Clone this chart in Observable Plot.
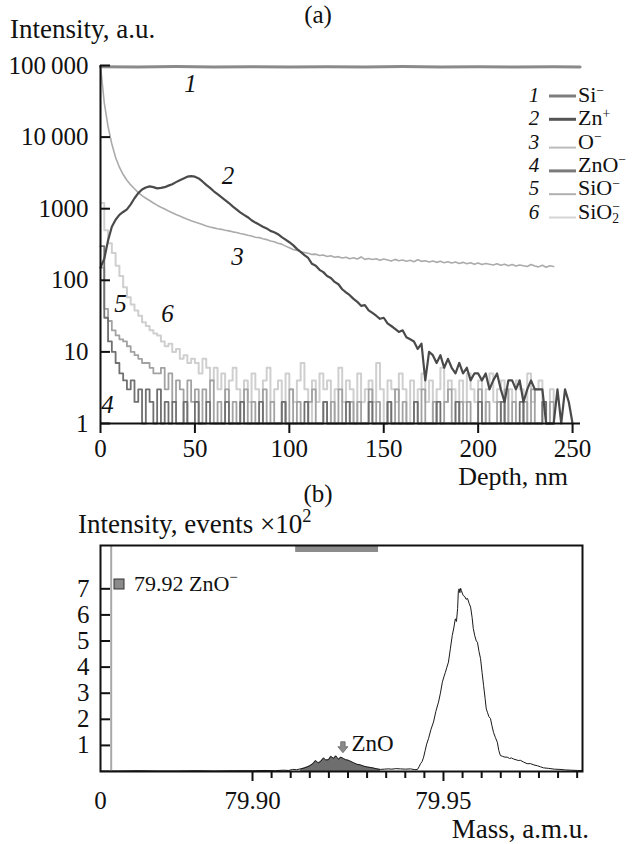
<!DOCTYPE html>
<html>
<head>
<meta charset="utf-8">
<script src="https://cdn.jsdelivr.net/npm/d3@7"></script>
<script src="https://cdn.jsdelivr.net/npm/@observablehq/plot@0.6"></script>
<style>
  body { margin: 0; background: #fff; }
  #wrap { position: relative; width: 636px; height: 844px; }
  #pa, #pb { position: absolute; left: 0; }
  #pa { top: 0; }
  #pb { top: 505px; }
</style>
</head>
<body>
<div id="wrap"><div id="pa"></div><div id="pb"></div></div>
<script>
// ================= DATA =================
// Panel (a): SIMS depth profiles
const depthTicks = [0, 50, 100, 150, 200, 250];
const intensityTicks = [1, 10, 100, 1000, 10000, 100000];
const intensityTickLabels = ["1", "10", "100", "1000", "10\u2009000", "100\u2009000"];

const profileStep = 2; // nm between recorded points (profiles start at 0 nm)

const siDepth  = [0, 20, 40, 60, 80, 100, 120, 140, 160, 180, 200, 220, 240, 254];
const siValues = [96000, 95000, 96500, 95500, 96000, 95000, 96000, 95500, 96500, 95000, 96000, 95500, 96000, 95500];

const znPlus = [
  150, 200, 360, 560, 700, 820, 900, 980, 1150, 1400,
  1650, 1850, 1980, 2050, 2000, 1920, 1950, 2000, 2100, 2200,
  2350, 2500, 2650, 2800, 2850, 2800, 2650, 2400, 2150, 1950,
  1750, 1600, 1450, 1320, 1200, 1080, 980, 890, 820, 760,
  690, 640, 600, 560, 530, 490, 470, 440, 400, 370,
  340, 310, 275, 250, 225, 205, 170, 160, 140, 130,
  115, 108, 95, 88, 75, 68, 62, 55, 50, 44,
  45, 38, 35, 32, 29, 30, 25, 23, 21, 19,
  20, 16, 15, 14, 11, 13, 4, 10, 9, 7,
  9, 6, 8, 6, 5, 7, 5, 6, 4, 5,
  5, 4, 5, 3, 4, 5, 3, 2, 4, 4,
  3, 4, 2, 3, 4, 3, 3, 3, 1, 1,
  1, 3, 1, 3, 2, 1
];

const oMinus = [
  100000, 30000, 14000, 8000, 5200, 3800, 3000, 2500, 2150, 1900,
  1680, 1520, 1400, 1300, 1200, 1120, 1050, 990, 930, 880,
  830, 790, 750, 710, 680, 650, 625, 600, 575, 555,
  540, 525, 515, 500, 490, 475, 465, 450, 440, 425,
  415, 400, 395, 380, 370, 355, 345, 330, 320, 300,
  285, 270, 262, 250, 245, 238, 230, 232, 222, 226,
  215, 220, 210, 214, 205, 210, 200, 206, 198, 212,
  196, 202, 195, 200, 190, 198, 192, 186, 196, 188,
  192, 185, 190, 182, 194, 184, 188, 180, 186, 178,
  184, 176, 182, 174, 180, 172, 178, 170, 176, 168,
  174, 166, 172, 168, 164, 170, 162, 168, 160, 166,
  158, 164, 160, 156, 166, 158, 154, 162, 152, 160,
  156
];

const znoMinus = [
  300, 30, 14, 10, 7, 5, 4, 3, 4, 2,
  3, 1, 3, 2, 1, 3, 1, 2, 1, 2,
  1, 1, 2, 1, 1, 2, 1, 1, 2, 1,
  1,
  1, 1, 2, 1, 1, 1, 2, 1, 1, 1, 1, 2, 1, 1, 1, 1, 1, 2, 1, 1,
  1, 1, 1, 2, 1, 1, 1, 1, 2, 1, 1, 1, 1, 1, 2, 1, 1, 1, 1, 1,
  2, 1, 1, 1, 1, 2, 1, 1, 1, 1, 1, 1, 2, 1, 1, 1, 1, 1, 2, 1,
  1, 1, 1, 2, 1, 1, 1, 1, 1, 2, 1, 1, 1, 1, 1, 2, 1, 1, 1, 1,
  2, 1, 1, 1, 1, 1, 2, 1, 1, 1
];

const sioMinus = [
  150, 40, 27, 20, 17, 15, 14, 12, 10, 9,
  8, 7, 7, 6, 5, 5, 6, 3, 5, 2,
  4, 3, 1, 4, 2, 3, 1, 3, 2, 4,
  1,
  2, 1, 3, 1, 2, 1, 2, 3, 1, 2, 1, 1, 3, 1, 2, 1, 1, 2, 1, 3,
  1, 2, 1, 1, 2, 3, 1, 1, 2, 1, 2, 1, 3, 1, 1, 2, 1, 2, 1, 1,
  3, 1, 2, 1, 1, 2, 1, 3, 1, 2, 1, 1, 2, 1, 3, 1, 1, 2, 1, 1,
  2, 3, 1, 1, 2, 1, 2, 1, 1, 3, 1, 2, 1, 1, 2, 1, 3, 1, 2, 1,
  1, 2, 1, 3, 1, 1, 2, 1, 2, 1
];

const sio2Minus = [
  1200, 500, 330, 240, 160, 115, 80, 58, 46, 38,
  32, 26, 23, 20, 18, 17, 14, 12, 13, 10,
  11, 8, 9, 7, 8, 7, 5, 8, 6, 4,
  6,
  3, 5, 2, 4, 6, 3, 1, 4, 2, 5, 3, 1, 4, 6, 2, 3, 4, 1, 5, 3,
  2, 4, 7, 3, 1, 4, 2, 5, 3, 4, 1, 3, 6, 2, 4, 3, 1, 5, 2, 3,
  4, 2, 7, 3, 1, 4, 3, 2, 5, 3, 1, 4, 2, 3, 5, 2, 4, 1, 3, 6,
  2, 4, 3, 1, 4, 2, 5, 3, 2, 4, 1, 3, 5, 2, 3, 4, 1, 3, 2, 4,
  3, 1, 5, 2, 3, 4, 2, 1, 3, 2
];

// curve number labels (depth nm, intensity a.u.)
const curveLabels = [
  {num: "1", depth: 47.7, value: 56000},
  {num: "2", depth: 67.5, value: 2900},
  {num: "3", depth: 72.5, value: 210},
  {num: "4", depth: 3.7, value: 1.8},
  {num: "5", depth: 10.6, value: 46},
  {num: "6", depth: 35.5, value: 34}
];

const legendNums = ["1", "2", "3", "4", "5", "6"];
const legendLabels = [
  ["Si", {sup: "\u2212"}],
  ["Zn", {sup: "+"}],
  ["O", {sup: "\u2212"}],
  ["ZnO", {sup: "\u2212"}],
  ["SiO", {sup: "\u2212"}],
  ["SiO", {sub: "2", sup: "\u2212"}]
];

// Panel (b): mass spectrum around 79.92–79.96 a.m.u.
const massDomain = [79.8602, 79.9864];
const massMajorTicks = [79.90, 79.95];
const massMinorTicks = [79.905, 79.910, 79.915, 79.920, 79.925, 79.930, 79.935, 79.940, 79.945,
                        79.955, 79.960, 79.965, 79.970, 79.975, 79.980, 79.985];
const countTicks = [1, 2, 3, 4, 5, 6, 7];

const specMass = [
  79.8602, 79.8650, 79.8700, 79.8750, 79.8800, 79.8850, 79.8900, 79.8950, 79.9000, 79.9030,
  79.9060, 79.9080, 79.9095, 79.9105, 79.9115, 79.9126, 79.9135, 79.9144, 79.9150, 79.9158,
  79.9165, 79.9172, 79.9178, 79.9186, 79.9192, 79.9199, 79.9205, 79.9212, 79.9218, 79.9225,
  79.9231, 79.9238, 79.9244, 79.9251, 79.9258, 79.9264, 79.9273, 79.9283, 79.9292, 79.9301,
  79.9310, 79.9317, 79.9326, 79.9335, 79.9345, 79.9355, 79.9365, 79.9375, 79.9387, 79.9400,
  79.9414, 79.9425, 79.9432, 79.9436, 79.9440, 79.9444, 79.9448, 79.9452, 79.9456, 79.9461,
  79.9467, 79.9474, 79.9480, 79.9487, 79.9492, 79.9497, 79.9501, 79.9505, 79.9509, 79.9513,
  79.9518, 79.9523, 79.9527, 79.9531, 79.9534, 79.9537, 79.9539, 79.9541, 79.9543, 79.9545,
  79.9547, 79.9550, 79.9552, 79.9556, 79.9559, 79.9563, 79.9567, 79.9571, 79.9575, 79.9578,
  79.9582, 79.9586, 79.9589, 79.9593, 79.9597, 79.9601, 79.9605, 79.9609, 79.9612, 79.9615,
  79.9619, 79.9623, 79.9627, 79.9631, 79.9636, 79.9641, 79.9645, 79.9649, 79.9655, 79.9661,
  79.9667, 79.9673, 79.9678, 79.9683, 79.9690, 79.9696, 79.9701, 79.9710, 79.9719, 79.9728,
  79.9737, 79.9746, 79.9754, 79.9762, 79.9775, 79.9790, 79.9805, 79.9820, 79.9835, 79.9851,
  79.9864
];
const specCounts = [
  0.02, 0.02, 0.03, 0.02, 0.02, 0.03, 0.02, 0.03, 0.03, 0.04,
  0.03, 0.05, 0.04, 0.08, 0.07, 0.10, 0.13, 0.18, 0.22, 0.30,
  0.42, 0.33, 0.38, 0.52, 0.44, 0.45, 0.58, 0.50, 0.60, 0.47,
  0.55, 0.50, 0.45, 0.43, 0.38, 0.34, 0.28, 0.25, 0.20, 0.17,
  0.15, 0.13, 0.10, 0.08, 0.09, 0.10, 0.09, 0.11, 0.10, 0.09,
  0.10, 0.07, 0.08, 0.18, 0.30, 0.38, 0.55, 0.80, 1.05, 1.27,
  1.60, 1.90, 2.30, 2.66, 3.00, 3.42, 3.62, 3.80, 4.00, 4.19,
  4.70, 5.21, 5.50, 5.85, 5.75, 6.24, 6.93, 7.00, 6.85, 7.02,
  6.93, 6.80, 6.74, 6.70, 6.60, 6.63, 6.45, 6.30, 5.90, 5.48,
  5.20, 5.00, 4.95, 4.60, 4.33, 3.80, 3.30, 2.80, 2.40, 2.27,
  2.10, 2.03, 1.75, 1.50, 1.30, 1.12, 0.80, 0.61, 0.58, 0.55,
  0.55, 0.50, 0.52, 0.48, 0.45, 0.42, 0.43, 0.36, 0.30, 0.30,
  0.25, 0.22, 0.18, 0.14, 0.12, 0.09, 0.08, 0.06, 0.05, 0.04,
  0.04
];
const znoPeakRange = [79.9126, 79.9335];  // shaded ZnO⁻ peak
const gateWindow = {from: 79.9113, to: 79.9330}; // grey bar on top
const cursorMass = 79.8630;                      // grey vertical marker line
const znoMarker = {mass: 79.9238, top: 1.12, tip: 0.70, label: "ZnO", labelMass: 79.9259, labelY: 1.07};

// ================= STYLE =================
const FONT = "'Liberation Serif', 'Times New Roman', Times, serif";
const seriesStyle = {
  "SiO2-": {stroke: "#cfcfcf", width: 2, curve: "step-after"},
  "SiO-":  {stroke: "#a2a2a2", width: 1.8, curve: "step-after"},
  "ZnO-":  {stroke: "#707070", width: 1.8, curve: "step-after"},
  "O-":    {stroke: "#ababab", width: 1.6, curve: "linear"},
  "Zn+":   {stroke: "#4a4a4a", width: 2.2, curve: "linear"},
  "Si-":   {stroke: "#8a8a8a", width: 3, curve: "linear"}
};
const legendStyle = [
  {stroke: "#7d7d7d", width: 3, off: 1},
  {stroke: "#555", width: 3, off: 1},
  {stroke: "#bcbcbc", width: 2, off: 6},
  {stroke: "#7a7a7a", width: 3, off: 6},
  {stroke: "#b0b0b0", width: 2, off: 6},
  {stroke: "#d4d4d4", width: 2, off: 6}
];

// ================= BUILD TABLES =================
const toRows = (name, arr) => arr.map((v, i) => ({series: name, depth: i * profileStep, value: v}));
const profiles = {
  "SiO2-": toRows("SiO2-", sio2Minus),
  "SiO-": toRows("SiO-", sioMinus),
  "ZnO-": toRows("ZnO-", znoMinus),
  "O-": toRows("O-", oMinus),
  "Zn+": toRows("Zn+", znPlus),
  "Si-": siDepth.map((d, i) => ({series: "Si-", depth: d, value: siValues[i]}))
};
const spectrum = specMass.map((m, i) => ({mass: m, counts: specCounts[i]}));
const znoPeak = spectrum.filter(d => d.mass >= znoPeakRange[0] && d.mass <= znoPeakRange[1]);

// rich text helper (sub/superscripts)
function richText(g, x, y, parts, {anchor = "start", size = 24, italic = false, supRise = 0.42, supScale = 0.68} = {}) {
  const t = g.append("text").attr("x", x).attr("y", y).attr("text-anchor", anchor)
    .attr("font-size", size).attr("font-family", FONT).attr("fill", "#111");
  if (italic) t.attr("font-style", "italic");
  let shift = 0;
  for (const p of parts) {
    if (typeof p === "string") {
      t.append("tspan").attr("dy", -shift).text(p); shift = 0;
    } else {
      if (p.sub) {
        t.append("tspan").attr("dy", size * 0.22 - shift).attr("font-size", size * supScale).text(p.sub);
        shift = size * 0.22;
        if (p.sup) {
          t.append("tspan").attr("dx", -size * supScale * 0.5).attr("dy", -size * supRise - shift).attr("font-size", size * supScale).text(p.sup);
          shift = -size * supRise;
        }
      } else if (p.sup) {
        t.append("tspan").attr("dy", -size * supRise - shift).attr("font-size", size * supScale).text(p.sup);
        shift = -size * supRise;
      }
    }
  }
  return t;
}

// ================= PANEL (a) =================
const drawOrder = ["SiO2-", "SiO-", "ZnO-", "O-", "Zn+", "Si-"];
const chartA = Plot.plot({
  width: 636, height: 505,
  marginTop: 65, marginBottom: 82, marginLeft: 100, marginRight: 56,
  style: {fontFamily: FONT, fontSize: "25px", background: "transparent", overflow: "visible", color: "#111"},
  x: {domain: [0, 254.2], label: null},
  y: {type: "log", domain: [1, 100000], label: null},
  marks: [
    ...drawOrder.map(k => Plot.line(profiles[k], {
      x: "depth", y: "value", stroke: seriesStyle[k].stroke, strokeWidth: seriesStyle[k].width,
      curve: seriesStyle[k].curve, strokeLinejoin: "round"
    })),
    Plot.ruleX([0], {stroke: "#111", strokeWidth: 2}),
    Plot.ruleY([1], {stroke: "#111", strokeWidth: 2}),
    Plot.tickY(intensityTicks, {y: d => d, insetRight: 470, stroke: "#111", strokeWidth: 2}),
    Plot.axisY({ticks: intensityTicks, tickSize: 0, tickPadding: 12, fontSize: 25,
      tickFormat: d => intensityTickLabels[intensityTicks.indexOf(d)]}),
    Plot.axisX({ticks: depthTicks, tickSize: 10, tickPadding: 6, strokeWidth: 2, fontSize: 25,
      tickFormat: d => String(d)}),
    Plot.text(curveLabels, {x: "depth", y: "value", text: "num", fontStyle: "italic", fontSize: 25, fill: "#111"})
  ]
});
document.getElementById("pa").appendChild(chartA);
{
  const g = d3.select(chartA).append("g");
  richText(g, 318, 23, ["(a)"], {anchor: "middle", size: 25});
  richText(g, 10, 38, ["Intensity, a.u."], {size: 27});
  richText(g, 568, 485, ["Depth, nm"], {anchor: "end", size: 26});
  richText(g, 318, 502, ["(b)"], {anchor: "middle", size: 25});
  legendNums.forEach((n, i) => {
    const cy = 95 + i * 23.3;
    richText(g, 534, cy + 7, [n], {anchor: "middle", size: 21, italic: true});
    g.append("line").attr("x1", 549).attr("x2", 576)
      .attr("y1", cy + legendStyle[i].off).attr("y2", cy + legendStyle[i].off)
      .attr("stroke", legendStyle[i].stroke).attr("stroke-width", legendStyle[i].width);
    richText(g, 578, cy + 7, legendLabels[i], {size: 22, supRise: 0.34, supScale: 0.62});
  });
}

// ================= PANEL (b) =================
const chartB = Plot.plot({
  width: 636, height: 339,
  marginTop: 40, marginBottom: 73, marginLeft: 100, marginRight: 54,
  style: {fontFamily: FONT, fontSize: "25px", background: "transparent", overflow: "visible", color: "#111"},
  x: {domain: massDomain, label: null},
  y: {domain: [0, 8.66], label: null},
  marks: [
    Plot.areaY(znoPeak, {x: "mass", y: "counts", fill: "#6e6e6e"}),
    Plot.line(spectrum, {x: "mass", y: "counts", stroke: "#1a1a1a", strokeWidth: 1}),
    Plot.ruleX([cursorMass], {stroke: "#a8a8a8", strokeWidth: 2}),
    Plot.rect([gateWindow], {x1: "from", x2: "to", insetTop: 1, insetBottom: 219, fill: "#8c8c8c"}),
    Plot.frame({stroke: "#111", strokeWidth: 2}),
    Plot.tickY(countTicks, {y: d => d, insetRight: 472, stroke: "#111", strokeWidth: 2}),
    Plot.axisY({ticks: countTicks, tickSize: 0, tickPadding: 11, fontSize: 25, tickFormat: d => String(d)}),
    Plot.axisX({ticks: massMajorTicks, tickSize: 10, tickPadding: 10, strokeWidth: 2, fontSize: 25,
      tickFormat: d3.format(".2f")}),
    Plot.axisX({ticks: massMinorTicks, tickSize: 7, strokeWidth: 2, tickFormat: () => ""}),
    Plot.axisX({ticks: [massDomain[0]], tickSize: 0, tickPadding: 20, fontSize: 25, tickFormat: () => "0"}),
    Plot.text([znoMarker], {x: "labelMass", y: "labelY", text: "label", textAnchor: "start", fontSize: 23, fill: "#111"})
  ]
});
document.getElementById("pb").appendChild(chartB);
{
  const g = d3.select(chartB).append("g");
  const xs = chartB.scale("x"), ys = chartB.scale("y");
  richText(g, 78, 28, ["Intensity, events \u00d710", {sup: "2"}], {size: 27});
  richText(g, 589, 333, ["Mass, a.m.u."], {anchor: "end", size: 27});
  // legend square
  g.append("rect").attr("x", 114).attr("y", 74).attr("width", 10).attr("height", 10)
    .attr("fill", "#8a8a8a").attr("stroke", "#333").attr("stroke-width", 1);
  richText(g, 134, 86, ["79.92 ZnO", {sup: "\u2212"}], {size: 22});
  // ZnO arrow
  const ax = xs.apply(znoMarker.mass), at = ys.apply(znoMarker.top), ab = ys.apply(znoMarker.tip);
  const hw = 5, sw = 2.2, hh = 6;
  g.append("path")
    .attr("d", `M${ax - sw},${at} L${ax + sw},${at} L${ax + sw},${ab - hh} L${ax + hw},${ab - hh} L${ax},${ab} L${ax - hw},${ab - hh} L${ax - sw},${ab - hh} Z`)
    .attr("fill", "#8a8a8a").attr("stroke", "#666").attr("stroke-width", 0.8);
}
</script>
</body>
</html>
